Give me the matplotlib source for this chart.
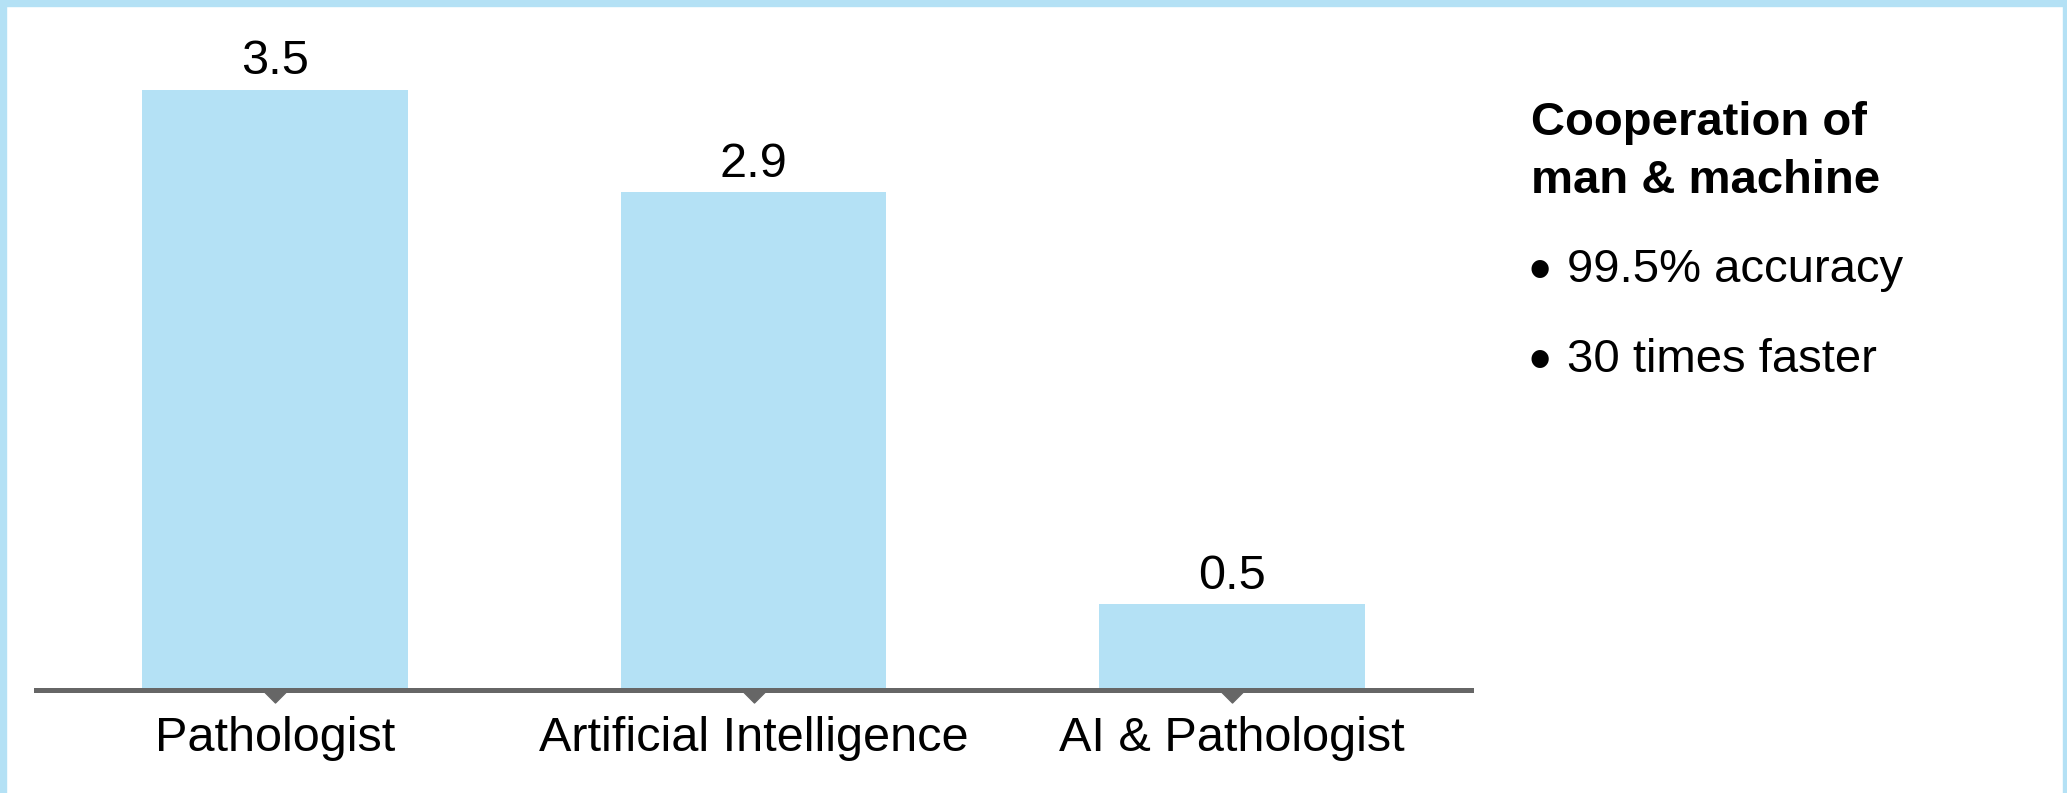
import matplotlib
matplotlib.use("Agg")
import matplotlib.pyplot as plt
from matplotlib.patches import Rectangle
from matplotlib.path import Path
from matplotlib.markers import MarkerStyle

categories = ["Pathologist", "Artificial Intelligence", "AI & Pathologist"]
values = [3.5, 2.9, 0.5]
value_labels = ["3.5", "2.9", "0.5"]
side_title = ["Cooperation of", "man & machine"]
side_bullets = ["99.5% accuracy", "30 times faster"]

BLUE = "#b4e1f5"
GREY = "#666666"

plt.rcParams["font.family"] = ["Liberation Sans", "DejaVu Sans"]

W, H = 2067, 793
fig = plt.figure(figsize=(W / 100, H / 100), dpi=100)

# light blue frame (left, top, right)
fig.patches.append(Rectangle((0, 0), 6 / W, 1, transform=fig.transFigure, color=BLUE, zorder=0))
fig.patches.append(Rectangle((0, 1 - 6 / H), 1, 6 / H, transform=fig.transFigure, color=BLUE, zorder=0))
fig.patches.append(Rectangle((1 - 4 / W, 0), 4 / W, 1, transform=fig.transFigure, color=BLUE, zorder=0))

ax = fig.add_axes([36 / W, (H - 689.5) / H, 1435 / W, 685.7 / H])
ax.patch.set_alpha(0)
x = list(range(len(categories)))
ax.bar(x, values, width=0.556, color=BLUE, zorder=1)
ax.set_xlim(-0.5, 2.5)
ax.set_ylim(0, 4)

for xi, v, lab in zip(x, values, value_labels):
    ax.annotate(lab, (xi, v), xytext=(0, 11), textcoords="offset points",
                ha="center", va="baseline", fontsize=35)

# small downward pointers under the baseline
tri = MarkerStyle(Path([(-1, 0), (1, 0), (0, -1), (-1, 0)]))
ax.plot(x, [0] * len(x), linestyle="none", marker=tri, markersize=18,
        color=GREY, clip_on=False, zorder=3)

for s in ["left", "right", "top"]:
    ax.spines[s].set_visible(False)
ax.spines["bottom"].set_color(GREY)
ax.spines["bottom"].set_linewidth(3.6)
ax.spines["bottom"].set_zorder(2.5)
ax.set_yticks([])
ax.set_xticks(x)
ax.set_xticklabels(categories, fontsize=35)
ax.tick_params(axis="x", length=0, pad=19)

# side note
tx = 1531 / W
fig.text(tx, 1 - 135 / H, side_title[0], fontsize=34, fontweight="bold", va="baseline")
fig.text(tx, 1 - 193 / H, side_title[1], fontsize=34, fontweight="bold", va="baseline")
for yb, line in zip([282, 372], side_bullets):
    fig.text(tx - 2 / W, 1 - (yb + 9) / H, "\u2022", fontsize=46, va="baseline")
    fig.text(1567 / W, 1 - yb / H, line, fontsize=34, va="baseline")

fig.savefig("out.png", dpi=100)
